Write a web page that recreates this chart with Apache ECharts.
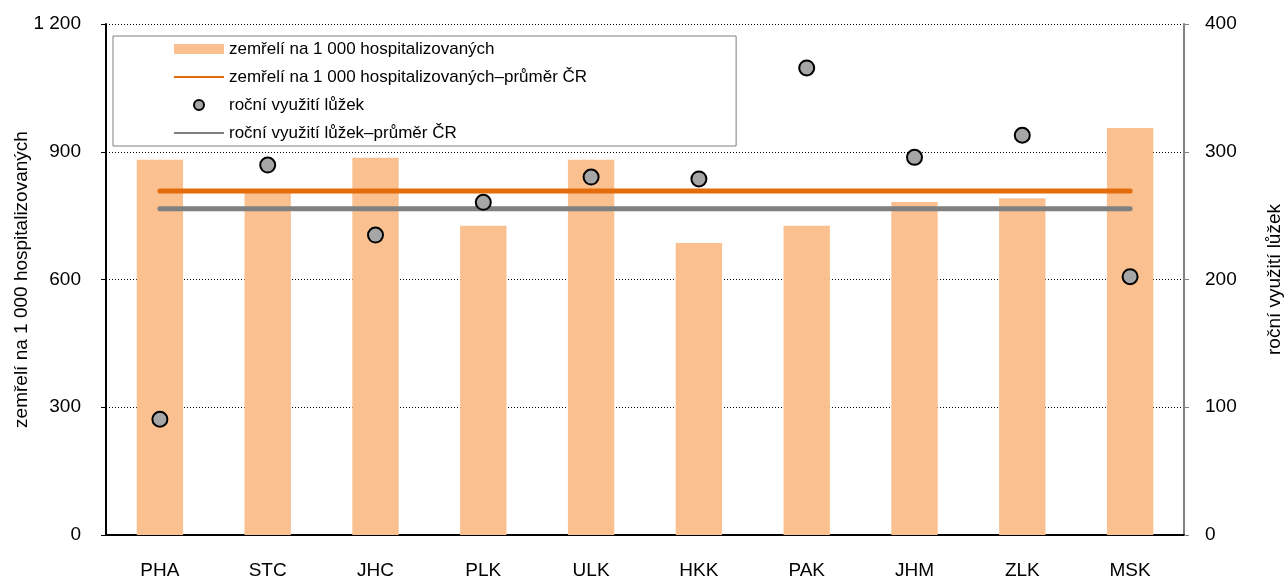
<!DOCTYPE html>
<html>
<head>
<meta charset="utf-8">
<script src="https://cdn.jsdelivr.net/npm/echarts@6/dist/echarts.min.js"></script>
<style>
  html, body { margin: 0; padding: 0; background: #fff; }
  #chart { width: 1284px; height: 579px; }
</style>
</head>
<body>
<div id="chart"></div>
<script>
// kraje
const kraje = ['PHA', 'STC', 'JHC', 'PLK', 'ULK', 'HKK', 'PAK', 'JHM', 'ZLK', 'MSK'];
// zemřelí na 1 000 hospitalizovaných
const zemreli = [881, 805, 886, 726, 881, 686, 726, 782, 791, 956];
const zemreliPrumer = 808;
// roční využití lůžek
const vyuziti = [90.6, 289.6, 234.8, 260.4, 280.2, 278.7, 365.6, 295.6, 312.9, 202.2];
const vyuzitiPrumer = 255.4;

const nameBars = 'zemřelí na 1 000 hospitalizovaných';
const nameBarsAvg = 'zemřelí na 1 000 hospitalizovaných–průměr ČR';
const nameDots = 'roční využití lůžek';
const nameDotsAvg = 'roční využití lůžek–průměr ČR';

const font = 'Liberation Sans, Arial, sans-serif';
const lineIcon = 'path://M0,0 L50,0 L50,2 L0,2 Z';

const chart = echarts.init(document.getElementById('chart'));
chart.setOption({
  animation: false,
  textStyle: { fontFamily: font, color: '#000' },
  grid: { left: 106, right: 100, top: 24, bottom: 44, outerBoundsMode: 'none', containLabel: false },
  legend: {
    orient: 'vertical',
    left: 113,
    top: 36,
    padding: [4, 149, 4, 61],
    itemGap: 10,
    itemWidth: 50,
    itemHeight: 10,
    borderColor: '#808080',
    borderWidth: 1,
    backgroundColor: '#fff',
    textStyle: { fontFamily: font, fontSize: 17, lineHeight: 18, color: '#000' },
    data: [
      { name: nameBars, icon: 'rect' },
      { name: nameBarsAvg, icon: lineIcon },
      { name: nameDots },
      { name: nameDotsAvg, icon: lineIcon }
    ]
  },
  xAxis: {
    type: 'category',
    data: kraje,
    axisLine: { lineStyle: { color: '#000', width: 2 } },
    axisTick: { length: 6, lineStyle: { color: '#000', width: 1.5 } },
    axisLabel: { fontSize: 19, margin: 26, color: '#000' }
  },
  yAxis: [
    {
      type: 'value',
      min: 0, max: 1200, interval: 300,
      name: nameBars,
      nameLocation: 'middle',
      nameGap: 75,
      nameMoveOverlap: false,
      nameTextStyle: { fontSize: 19, color: '#000' },
      axisLine: { show: true, lineStyle: { color: '#000', width: 2 } },
      axisTick: { show: true, length: 5, lineStyle: { color: '#000' } },
      axisLabel: {
        fontSize: 19, margin: 25, color: '#000',
        formatter: v => String(v).replace(/\B(?=(\d{3})+(?!\d))/g, ' ')
      },
      splitLine: { lineStyle: { color: '#000', type: [1, 2], width: 1 } }
    },
    {
      type: 'value',
      min: 0, max: 400, interval: 100,
      name: nameDots,
      nameLocation: 'middle',
      nameRotate: 90,
      nameGap: 81,
      nameMoveOverlap: false,
      nameTextStyle: { fontSize: 19, color: '#000' },
      axisLine: { show: true, lineStyle: { color: '#808080', width: 2 } },
      axisTick: { show: true, length: 5, lineStyle: { color: '#808080' } },
      axisLabel: { fontSize: 19, margin: 21, color: '#000' },
      splitLine: { show: false }
    }
  ],
  series: [
    {
      name: nameBars,
      type: 'bar',
      data: zemreli,
      barWidth: '43%',
      itemStyle: { color: '#FAC090' },
      z: 1
    },
    {
      name: nameBarsAvg,
      type: 'line',
      data: kraje.map(() => zemreliPrumer),
      symbol: 'none',
      lineStyle: { color: '#E46C0A', width: 5, cap: 'round' },
      itemStyle: { color: '#E46C0A' },
      z: 2
    },
    {
      name: nameDotsAvg,
      type: 'line',
      yAxisIndex: 1,
      data: kraje.map(() => vyuzitiPrumer),
      symbol: 'none',
      lineStyle: { color: '#808080', width: 5, cap: 'round' },
      itemStyle: { color: '#808080' },
      z: 2
    },
    {
      name: nameDots,
      type: 'scatter',
      yAxisIndex: 1,
      data: vyuziti,
      symbol: 'circle',
      symbolSize: 15,
      itemStyle: { color: '#A6A6A6', borderColor: '#000', borderWidth: 2, opacity: 1 },
      z: 3
    }
  ]
});
</script>
</body>
</html>
